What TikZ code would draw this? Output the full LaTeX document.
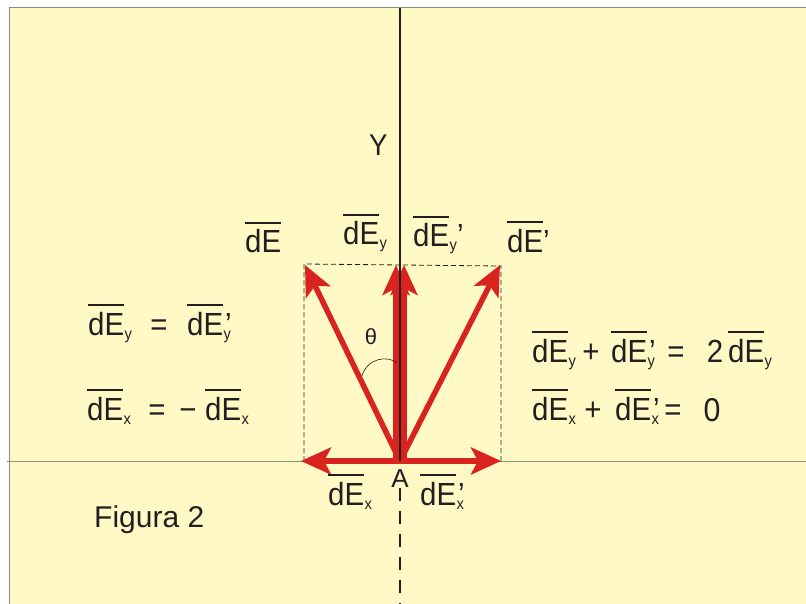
\documentclass[tikz,border=0pt]{standalone}
\usepackage{fontspec}
\setmainfont{Liberation Sans}
\newfontfamily\eqf[FakeStretch=0.92]{Liberation Sans}
\usetikzlibrary{arrows.meta}
\definecolor{bgyel}{HTML}{FFF9C6}
\definecolor{vred}{HTML}{D8231F}
\definecolor{ink}{HTML}{231F20}
\definecolor{axgrey}{HTML}{8C8C80}
\newcommand\bdE{\hbox{\vbox{\hrule height 2.2pt\vskip 6pt\hbox{dE}}}}
\newcommand\sbs[1]{\hspace{0.5pt}\raisebox{-4pt}{\fontsize{16}{16}\selectfont #1}}
\newcommand\sbq[1]{\hspace{0.5pt}\rlap{\raisebox{-4pt}{\fontsize{16}{16}\selectfont #1}}\hspace{1.5pt}’\hspace{5pt}}
\newcommand\sbr[1]{\hspace{0.5pt}\raisebox{-4pt}{\fontsize{16}{16}\selectfont #1}’}
\tikzset{
  vec/.style={draw=vred, line width=5.5pt, -{Stealth[length=30pt,width=27pt,inset=7pt]}},
  lbl/.style={anchor=base west, inner sep=0pt, text=ink, font=\eqf\fontsize{32}{33}\selectfont},
  sym/.style={anchor=base, inner sep=0pt, text=ink, font=\eqf\fontsize{32}{33}\selectfont},
  guide/.style={draw=ink, line width=0.8pt, dash pattern=on 5pt off 3pt},
}
\begin{document}
\begin{tikzpicture}[x=1pt,y=-1pt]
\useasboundingbox (0,0) rectangle (806,604);
\fill[white] (0,0) rectangle (806,604);
\fill[bgyel] (9,8) rectangle (806,604);
\draw[axgrey, line width=1pt] (9,604) -- (9,8) -- (806,8);
% coordinates
\coordinate (A) at (400,461);
\coordinate (A1) at (396,461);
\coordinate (A2) at (404,461);
\coordinate (tE) at (305,265);
\coordinate (tEp) at (500,265);
\coordinate (tyL) at (396,265);
\coordinate (tyR) at (404,265);
\coordinate (txL) at (301,461);
\coordinate (txR) at (501,461);
\coordinate (axL) at (7,461);
\coordinate (axR) at (806,461);
\coordinate (axT) at (400,8);
\coordinate (axD) at (400,488);
\coordinate (axB) at (400,604);
\coordinate (rTL) at (304,264);
\coordinate (rTR) at (501,266);
\coordinate (rBL) at (304,461);
\coordinate (rBR) at (501,461);
% axes
\draw[axgrey, line width=1pt] (axL) -- (axR);
% guide rectangle
\draw[guide] (rBL) -- (rTL) -- (rTR) -- (rBR);
% vectors
\draw[vec] (A) -- (tE);
\draw[vec] (A) -- (tEp);
\draw[vec] (A) -- (txL);
\draw[vec] (A) -- (txR);
\draw[vec] (A1) -- (tyL);
\draw[vec] (A2) -- (tyR);
% vertical axis
\draw[ink, line width=2.3pt] (axT) -- (A);
\draw[ink, line width=2.5pt, dash pattern=on 13pt off 10pt] (axD) -- (axB);
% theta arc
\coordinate (th1) at (362,376);
\coordinate (th2) at (397,363);
\draw[ink, line width=0.6pt] (th1) .. controls (367,358) and (388,355) .. (th2);
\node[text=ink, font=\fontsize{22}{22}\selectfont] (theta) at (371,337) {θ};
% labels
\node[lbl, font=\eqf\fontsize{30}{30}\selectfont] (Y) at (369,156) {Y};
\node[lbl] (lE) at (245,253) {\bdE};
\node[lbl] (lEy) at (343,245) {\bdE\sbs{y}};
\node[lbl] (lEyp) at (413,247) {\bdE\sbr{y}};
\node[lbl] (lEp) at (507,252) {\bdE’};
% left equations
\node[lbl] (e1a) at (88,335) {\bdE\sbs{y}};
\node[sym] (e1b) at (159,335) {=};
\node[lbl] (e1c) at (187,335) {\bdE\sbq{y}};
\node[lbl] (e2a) at (87,420) {\bdE\sbs{x}};
\node[sym] (e2b) at (157,420) {=};
\node[sym] (e2c) at (188,420) {−};
\node[lbl] (e2d) at (205,420) {\bdE\sbs{x}};
% right equations
\node[lbl] (e3a) at (532,362) {\bdE\sbs{y}};
\node[sym] (e3b) at (591,362) {+};
\node[lbl] (e3c) at (611,362) {\bdE\sbq{y}};
\node[sym] (e3d) at (676,362) {=};
\node[sym] (e3e) at (715,362) {2};
\node[lbl] (e3f) at (728,362) {\bdE\sbs{y}};
\node[lbl] (e4a) at (532,420) {\bdE\sbs{x}};
\node[sym] (e4b) at (593,420) {+};
\node[lbl] (e4c) at (615,420) {\bdE\sbq{x}};
\node[sym] (e4d) at (673,420) {=};
\node[sym, font=\eqf\fontsize{33}{33}\selectfont] (e4e) at (712,421) {0};
% bottom labels
\node[sym, font=\fontsize{26}{26}\selectfont] (lA) at (400,487) {A};
\node[lbl] (lEx) at (328,505) {\bdE\sbs{x}};
\node[lbl] (lExp) at (420,505) {\bdE\sbq{x}};
\node[lbl, font=\fontsize{30}{30}\selectfont] (fig) at (94,527) {Figura 2};
\end{tikzpicture}
\end{document}
